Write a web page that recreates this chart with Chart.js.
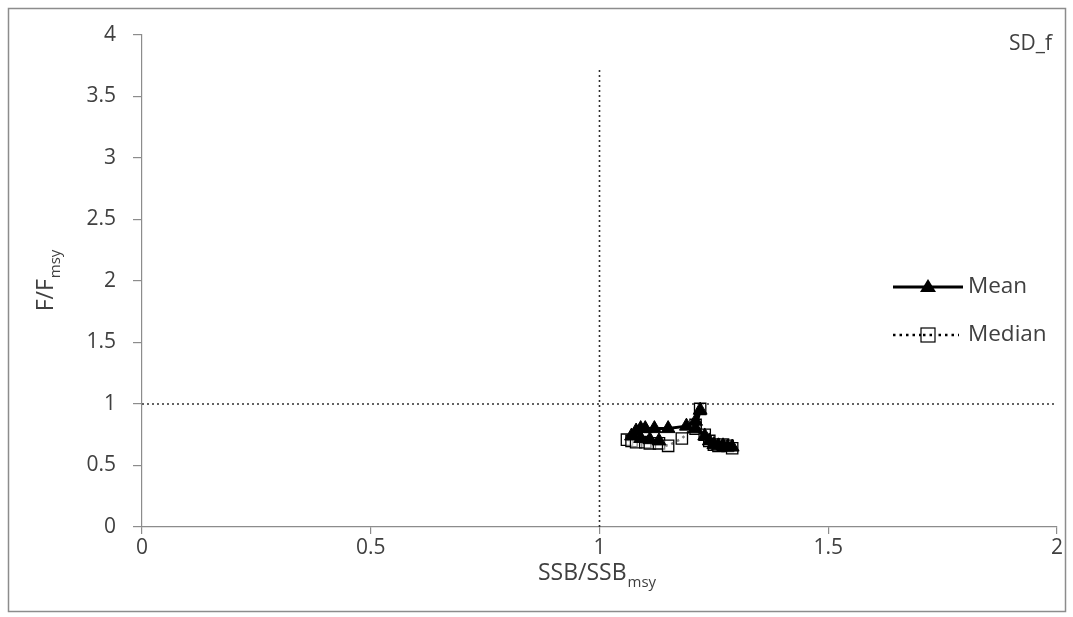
<!DOCTYPE html>
<html>
<head>
<meta charset="utf-8">
<script src="https://cdn.jsdelivr.net/npm/chart.js@4.4.1/dist/chart.umd.min.js"></script>
<style>
  html, body { margin: 0; padding: 0; background: #ffffff; }
  #wrap { width: 1073px; height: 617px; }
</style>
</head>
<body>
<div id="wrap"><canvas id="c" width="1073" height="617"></canvas></div>
<script>
// Stock trajectory: SSB/SSBmsy (x) against F/Fmsy (y)
const meanSSB   = [1.13, 1.11, 1.09, 1.07, 1.08, 1.09, 1.10, 1.12, 1.15, 1.19, 1.21, 1.22, 1.21, 1.23, 1.24, 1.25, 1.26, 1.27, 1.28, 1.29];
const meanF     = [0.70, 0.71, 0.72, 0.74, 0.78, 0.80, 0.80, 0.80, 0.80, 0.82, 0.86, 0.95, 0.80, 0.74, 0.70, 0.67, 0.66, 0.66, 0.65, 0.65];
const medianSSB = [1.06, 1.07, 1.08, 1.10, 1.11, 1.13, 1.15, 1.18, 1.21, 1.22, 1.21, 1.23, 1.24, 1.25, 1.26, 1.27, 1.28, 1.29];
const medianF   = [0.71, 0.70, 0.69, 0.69, 0.68, 0.68, 0.66, 0.72, 0.83, 0.96, 0.80, 0.75, 0.70, 0.67, 0.66, 0.67, 0.66, 0.64];

// Reference lines at SSB/SSBmsy = 1 and F/Fmsy = 1
const refVertX = [1, 1];
const refVertY = [0, 3.73];
const refHorzX = [0, 2];
const refHorzY = [1, 1];

const xTicks = [0, 0.5, 1, 1.5, 2];
const yTicks = [0, 0.5, 1, 1.5, 2, 2.5, 3, 3.5, 4];

const seriesNames = ['Mean', 'Median'];
const panelLabel = 'SD_f';

const FONT = "'Open Sans', sans-serif";
const TEXT = '#404040';
const AXIS = '#8c8c8c';

const pts = (xs, ys) => xs.map((x, i) => ({ x, y: ys[i] }));

const decor = {
  id: 'decor',
  beforeDraw(chart) {
    const ctx = chart.ctx;
    ctx.save();
    ctx.fillStyle = '#ffffff';
    ctx.fillRect(0, 0, chart.width, chart.height);
    ctx.strokeStyle = '#8c8c8c';
    ctx.lineWidth = 1.5;
    ctx.strokeRect(8.5, 8.5, 1057, 603);
    ctx.restore();
  },
  afterDraw(chart) {
    const ctx = chart.ctx;
    const area = chart.chartArea;
    ctx.save();
    ctx.fillStyle = TEXT;
    ctx.textBaseline = 'alphabetic';

    // x axis title with subscript
    const main = 'SSB/SSB', sub = 'msy';
    ctx.font = `23px ${FONT}`;
    const wMain = ctx.measureText(main).width;
    ctx.font = `15px ${FONT}`;
    const wSub = ctx.measureText(sub).width;
    const cx = (area.left + area.right) / 2;
    const sx = cx - (wMain + wSub) / 2 - 3;
    ctx.font = `23px ${FONT}`;
    ctx.textAlign = 'left';
    ctx.fillText(main, sx, 580);
    ctx.font = `15px ${FONT}`;
    ctx.fillText(sub, sx + wMain + 1, 587);

    // y axis title with subscript, rotated
    ctx.save();
    ctx.translate(53, (area.top + area.bottom) / 2);
    ctx.rotate(-Math.PI / 2);
    const ym = 'F/F', ys = 'msy';
    ctx.font = `23px ${FONT}`;
    const wy = ctx.measureText(ym).width;
    ctx.font = `15px ${FONT}`;
    const wys = ctx.measureText(ys).width;
    const ox = -(wy + wys) / 2;
    ctx.font = `23px ${FONT}`;
    ctx.fillText(ym, ox, 0);
    ctx.font = `15px ${FONT}`;
    ctx.fillText(ys, ox + wy + 1, 7);
    ctx.restore();

    // panel label
    ctx.font = `21px ${FONT}`;
    ctx.textAlign = 'right';
    ctx.fillText(panelLabel, 1052, 50);

    // legend
    const lx0 = 893, lx1 = 963, mx = 928;
    const rows = [287, 335];
    ctx.textAlign = 'left';
    ctx.textBaseline = 'middle';
    // Mean row
    ctx.strokeStyle = '#000';
    ctx.lineWidth = 3;
    ctx.setLineDash([]);
    ctx.beginPath();
    ctx.moveTo(lx0, rows[0]); ctx.lineTo(lx1, rows[0]);
    ctx.stroke();
    ctx.fillStyle = '#000';
    ctx.beginPath();
    ctx.moveTo(mx, rows[0] - 8);
    ctx.lineTo(mx + 8, rows[0] + 5);
    ctx.lineTo(mx - 8, rows[0] + 5);
    ctx.closePath();
    ctx.fill();
    ctx.fillStyle = TEXT;
    ctx.font = `22.5px ${FONT}`;
    ctx.fillText(seriesNames[0], 968, rows[0]);
    // Median row
    ctx.strokeStyle = '#000';
    ctx.lineWidth = 2.5;
    ctx.setLineDash([2.5, 4]);
    ctx.beginPath();
    ctx.moveTo(lx0, rows[1]); ctx.lineTo(lx1 - 4, rows[1]);
    ctx.stroke();
    ctx.setLineDash([]);
    ctx.fillStyle = '#fff';
    ctx.fillRect(mx - 7, rows[1] - 7, 14, 14);
    ctx.lineWidth = 1.2;
    ctx.strokeRect(mx - 7, rows[1] - 7, 14, 14);
    ctx.setLineDash([2.5, 4]);
    ctx.lineWidth = 2.5;
    ctx.beginPath();
    ctx.moveTo(mx - 5, rows[1]); ctx.lineTo(mx + 6, rows[1]);
    ctx.stroke();
    ctx.setLineDash([]);
    ctx.fillStyle = TEXT;
    ctx.fillText(seriesNames[1], 968, rows[1]);
    ctx.restore();
  }
};

new Chart(document.getElementById('c'), {
  type: 'scatter',
  data: {
    datasets: [
      {
        label: 'refV', data: pts(refVertX, refVertY), showLine: true,
        borderColor: '#303030', borderWidth: 1.6, borderDash: [2, 3],
        pointRadius: 0, order: 3
      },
      {
        label: 'refH', data: pts(refHorzX, refHorzY), showLine: true,
        borderColor: '#303030', borderWidth: 1.6, borderDash: [2, 3],
        pointRadius: 0, order: 3
      },
      {
        label: seriesNames[1], data: pts(medianSSB, medianF), showLine: true,
        borderColor: '#000', borderWidth: 2.5, borderDash: [2.5, 4],
        pointStyle: 'rect', pointRadius: 8, pointBorderWidth: 1.3,
        pointBackgroundColor: 'rgba(255,255,255,0.5)', pointBorderColor: '#000',
        order: 2
      },
      {
        label: seriesNames[0], data: pts(meanSSB, meanF), showLine: true,
        borderColor: '#000', borderWidth: 3,
        pointStyle: 'triangle', pointRadius: 8, pointBorderWidth: 1,
        pointBackgroundColor: '#000', pointBorderColor: '#000',
        order: 1
      }
    ]
  },
  options: {
    responsive: false,
    animation: false,
    layout: { padding: { left: 0, top: 35, right: 16, bottom: 0 } },
    plugins: { legend: { display: false }, tooltip: { enabled: false } },
    scales: {
      x: {
        type: 'linear', min: 0, max: 2,
        afterBuildTicks: s => { s.ticks = xTicks.map(v => ({ value: v })); },
        afterFit: s => { s.height = 90; },
        grid: { drawOnChartArea: false, drawTicks: true, tickLength: 7, color: AXIS, lineWidth: 1.2 },
        border: { display: true, color: AXIS, width: 1.2 },
        ticks: { color: TEXT, font: { family: FONT, size: 21 }, padding: 1, maxRotation: 0,
                 callback: v => String(v) }
      },
      y: {
        type: 'linear', min: 0, max: 4,
        afterBuildTicks: s => { s.ticks = yTicks.map(v => ({ value: v })); },
        afterFit: s => { s.width = 142; },
        grid: { drawOnChartArea: false, drawTicks: true, tickLength: 9, color: AXIS, lineWidth: 1.2 },
        border: { display: true, color: AXIS, width: 1.2 },
        ticks: { color: TEXT, font: { family: FONT, size: 21 }, padding: 17,
                 callback: v => String(v) }
      }
    }
  },
  plugins: [decor]
});
</script>
</body>
</html>
